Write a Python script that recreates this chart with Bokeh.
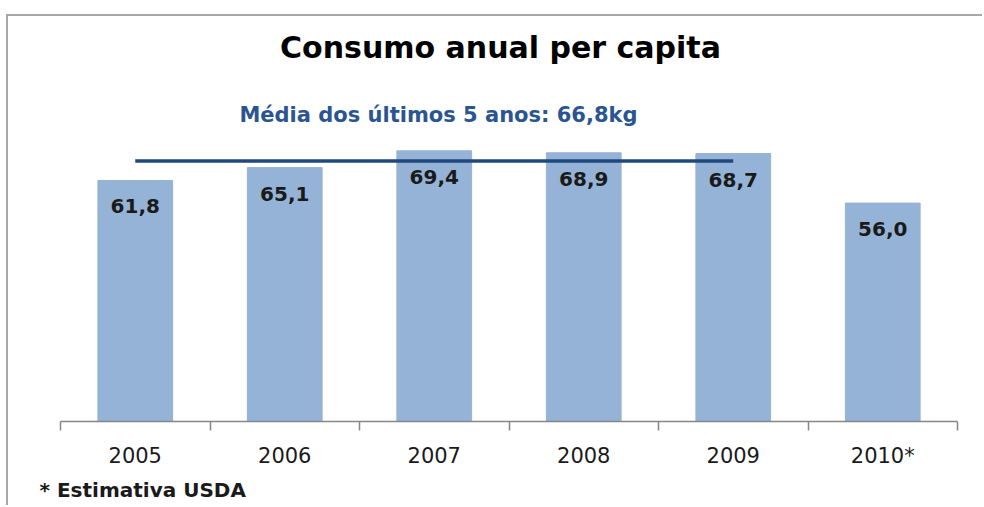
from bokeh.plotting import figure
from bokeh.models import (ColumnDataSource, Range1d, FixedTicker, Label, Title)
from bokeh.core.properties import value
from bokeh.embed import file_html
from bokeh.resources import INLINE

# ---- data ----
years = ["2005", "2006", "2007", "2008", "2009", "2010*"]
consumo = [61.8, 65.1, 69.4, 68.9, 68.7, 56.0]
labels = ["61,8", "65,1", "69,4", "68,9", "68,7", "56,0"]
media = 66.8
media_span = ("2005", "2009")
title_text = "Consumo anual per capita"
media_text = "Média dos últimos 5 anos: 66,8kg"
note_text = "* Estimativa USDA"

FONT = "DejaVu Sans"
BAR = "#95B3D7"
DARK_BLUE = "#1F497D"

n = len(years)
pos = [i + 0.5 for i in range(n)]          # slot centres on a 0..n axis
src = ColumnDataSource(dict(x=pos, v=consumo, lab=labels))

p = figure(width=976, height=491, x_range=Range1d(0, n),
           y_range=Range1d(0, 100), output_backend="svg", toolbar_location=None,
           y_axis_location=None,
           min_border_left=52, min_border_right=27, min_border_top=15, min_border_bottom=86)
p.grid.visible = False
p.outline_line_color = None
p.background_fill_color = "white"
p.border_fill_color = "white"
p.styles = {"margin-left": "6px", "margin-top": "14px",
            "border-left": "2px solid #A8A8A8", "border-top": "2px solid #A8A8A8"}

p.vbar(x="x", top="v", width=0.5, source=src, fill_color=BAR, line_color=BAR)

p.text(x="x", y="v", text="lab", source=src, y_offset=26,
       text_align="center", text_baseline="middle",
       text_font=value(FONT), text_font_style="bold", text_font_size="20px",
       text_color="#1a1a1a")

i0, i1 = years.index(media_span[0]), years.index(media_span[1])
p.segment(x0=[pos[i0]], x1=[pos[i1]], y0=[media], y1=[media],
          line_color=DARK_BLUE, line_width=3.5)

# axis: labels at slot centres, tick marks at slot boundaries
ax = p.xaxis[0]
ax.ticker = FixedTicker(ticks=pos, minor_ticks=list(range(n + 1)))
ax.major_label_overrides = {x: y for x, y in zip(pos, years)}
ax.axis_line_color = "#868686"
ax.axis_line_width = 1.5
ax.major_tick_line_color = None
ax.major_tick_out = 0
ax.major_tick_in = 0
ax.minor_tick_line_color = "#868686"
ax.minor_tick_line_width = 1.5
ax.minor_tick_out = 9
ax.minor_tick_in = 0
ax.major_label_standoff = 13
ax.major_label_text_font = FONT
ax.major_label_text_font_size = "21px"
ax.major_label_text_color = "#1a1a1a"

# title and mean label (frame-relative screen units)
p.add_layout(Label(x=440, y=374, x_units="screen", y_units="screen", text=title_text,
                   text_align="center", text_baseline="middle",
                   text_font=FONT, text_font_style="bold", text_font_size="30px",
                   text_color="black"))
p.add_layout(Label(x=378, y=307, x_units="screen", y_units="screen", text=media_text,
                   text_align="center", text_baseline="middle",
                   text_font=FONT, text_font_style="bold", text_font_size="21px",
                   text_color="#2A5590"))

p.add_layout(Title(text=note_text, align="left", offset=-21,
                   text_font=FONT, text_font_style="bold", text_font_size="20px",
                   text_color="#1a1a1a"), "below")

open("out.html", "w").write(file_html(p, INLINE))
